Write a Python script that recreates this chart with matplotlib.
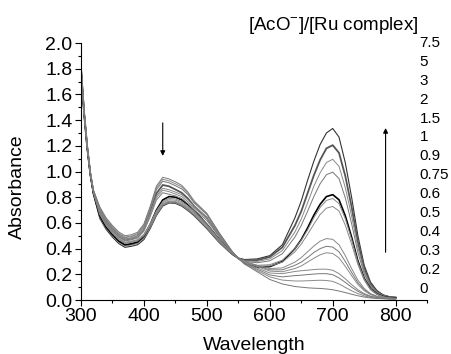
import matplotlib
matplotlib.use('Agg')
import matplotlib.pyplot as plt
from matplotlib.ticker import MultipleLocator, FixedLocator

plt.rcParams['font.family'] = ['Liberation Sans', 'DejaVu Sans']
plt.rcParams['mathtext.fontset'] = 'custom'
plt.rcParams['mathtext.rm'] = 'Liberation Sans'

wavelength = [300, 305, 310, 315, 320, 330, 340, 350, 360, 370, 380, 390, 400, 410, 420, 430, 440, 450, 460, 470, 480,
              500, 520, 540, 550, 560, 580, 600, 620, 640,
              650, 660, 670, 680, 690, 700, 710, 720, 730, 740, 750, 760, 770, 780, 790, 800]

ratio_labels = ['7.5', '5', '3', '2', '1.5', '1', '0.9', '0.75', '0.6', '0.5', '0.4', '0.3', '0.2', '0']

a_7_5 = [1.80, 1.45, 1.18, 0.97, 0.82, 0.635, 0.55, 0.49, 0.44, 0.41, 0.418, 0.43, 0.47, 0.555, 0.658, 0.731, 0.755, 0.752, 0.731, 0.696, 0.655,
         0.555, 0.445, 0.355, 0.325, 0.315, 0.32, 0.345, 0.43, 0.64,
         0.77, 0.93, 1.08, 1.21, 1.30, 1.335, 1.268, 1.068, 0.80, 0.50, 0.27, 0.14, 0.075, 0.04, 0.025, 0.02]
a_5 = [1.81, 1.46, 1.19, 0.98, 0.835, 0.695, 0.61, 0.55, 0.50, 0.47, 0.478, 0.495, 0.55, 0.68, 0.83, 0.895, 0.885, 0.86, 0.835, 0.79, 0.73,
       0.64, 0.50, 0.37, 0.325, 0.31, 0.31, 0.335, 0.41, 0.58,
       0.69, 0.83, 0.97, 1.09, 1.18, 1.205, 1.145, 0.965, 0.725, 0.45, 0.245, 0.125, 0.068, 0.037, 0.024, 0.02]
a_3 = [1.80, 1.45, 1.18, 0.97, 0.825, 0.645, 0.56, 0.50, 0.45, 0.42, 0.428, 0.44, 0.48, 0.563, 0.665, 0.736, 0.76, 0.757, 0.736, 0.702, 0.66,
       0.56, 0.45, 0.357, 0.325, 0.305, 0.30, 0.32, 0.385, 0.53,
       0.63, 0.755, 0.885, 0.99, 1.07, 1.095, 1.04, 0.875, 0.655, 0.41, 0.225, 0.115, 0.062, 0.034, 0.022, 0.018]
a_2 = [1.80, 1.455, 1.185, 0.975, 0.828, 0.65, 0.565, 0.505, 0.455, 0.425, 0.433, 0.445, 0.486, 0.568, 0.67, 0.741, 0.765, 0.762, 0.741, 0.707, 0.665,
       0.565, 0.455, 0.36, 0.325, 0.30, 0.29, 0.305, 0.36, 0.49,
       0.58, 0.69, 0.805, 0.905, 0.975, 0.995, 0.945, 0.795, 0.595, 0.37, 0.205, 0.105, 0.057, 0.031, 0.02, 0.017]
a_1_5 = [1.81, 1.46, 1.19, 0.98, 0.83, 0.655, 0.57, 0.51, 0.46, 0.43, 0.438, 0.452, 0.497, 0.588, 0.70, 0.779, 0.805, 0.80, 0.78, 0.742, 0.695,
         0.59, 0.47, 0.365, 0.325, 0.29, 0.255, 0.26, 0.30, 0.40,
         0.47, 0.56, 0.66, 0.745, 0.805, 0.82, 0.78, 0.655, 0.49, 0.305, 0.17, 0.088, 0.048, 0.027, 0.018, 0.015]
a_1 = [1.81, 1.46, 1.19, 0.98, 0.835, 0.665, 0.58, 0.52, 0.47, 0.44, 0.448, 0.46, 0.50, 0.579, 0.678, 0.747, 0.77, 0.767, 0.747, 0.714, 0.675,
       0.575, 0.46, 0.362, 0.325, 0.295, 0.27, 0.275, 0.31, 0.40,
       0.465, 0.545, 0.64, 0.72, 0.775, 0.79, 0.75, 0.632, 0.473, 0.295, 0.165, 0.085, 0.047, 0.026, 0.017, 0.014]
a_0_9 = [1.81, 1.46, 1.19, 0.98, 0.837, 0.67, 0.585, 0.525, 0.475, 0.445, 0.453, 0.465, 0.505, 0.586, 0.686, 0.757, 0.78, 0.777, 0.757, 0.723, 0.683,
         0.583, 0.465, 0.363, 0.325, 0.29, 0.265, 0.265, 0.295, 0.375,
         0.435, 0.51, 0.59, 0.665, 0.715, 0.728, 0.693, 0.582, 0.435, 0.275, 0.155, 0.08, 0.044, 0.025, 0.016, 0.013]
a_0_75 = [1.815, 1.465, 1.195, 0.985, 0.84, 0.675, 0.59, 0.53, 0.48, 0.45, 0.458, 0.47, 0.51, 0.593, 0.695, 0.766, 0.79, 0.787, 0.766, 0.732, 0.69,
          0.59, 0.47, 0.365, 0.325, 0.30, 0.27, 0.245, 0.25, 0.295,
          0.33, 0.375, 0.42, 0.458, 0.478, 0.472, 0.43, 0.345, 0.245, 0.155, 0.09, 0.05, 0.03, 0.018, 0.013, 0.011]
a_0_6 = [1.815, 1.465, 1.195, 0.985, 0.84, 0.685, 0.60, 0.54, 0.49, 0.46, 0.468, 0.483, 0.535, 0.648, 0.779, 0.835, 0.823, 0.81, 0.79, 0.75, 0.70,
         0.62, 0.49, 0.37, 0.325, 0.30, 0.265, 0.235, 0.235, 0.27,
         0.295, 0.33, 0.37, 0.40, 0.418, 0.412, 0.375, 0.30, 0.215, 0.135, 0.08, 0.046, 0.027, 0.017, 0.012, 0.01]
a_0_5 = [1.815, 1.465, 1.195, 0.985, 0.845, 0.695, 0.61, 0.55, 0.50, 0.47, 0.478, 0.493, 0.547, 0.663, 0.797, 0.855, 0.843, 0.825, 0.805, 0.765, 0.715,
         0.635, 0.50, 0.373, 0.325, 0.30, 0.26, 0.225, 0.22, 0.245,
         0.265, 0.295, 0.325, 0.352, 0.368, 0.362, 0.328, 0.262, 0.19, 0.12, 0.073, 0.042, 0.025, 0.016, 0.012, 0.01]
a_0_4 = [1.82, 1.47, 1.20, 0.99, 0.845, 0.70, 0.615, 0.555, 0.505, 0.475, 0.483, 0.499, 0.554, 0.673, 0.811, 0.87, 0.858, 0.84, 0.82, 0.78, 0.73,
         0.645, 0.505, 0.375, 0.325, 0.29, 0.25, 0.21, 0.205, 0.222,
         0.228, 0.232, 0.237, 0.24, 0.24, 0.232, 0.205, 0.165, 0.12, 0.08, 0.05, 0.03, 0.02, 0.013, 0.01, 0.01]
a_0_3 = [1.82, 1.47, 1.20, 0.99, 0.85, 0.71, 0.625, 0.565, 0.515, 0.485, 0.493, 0.511, 0.573, 0.705, 0.859, 0.925, 0.912, 0.89, 0.865, 0.82, 0.755,
         0.665, 0.515, 0.378, 0.325, 0.285, 0.24, 0.195, 0.18, 0.19,
         0.193, 0.198, 0.202, 0.205, 0.205, 0.197, 0.172, 0.137, 0.10, 0.068, 0.043, 0.027, 0.018, 0.012, 0.01, 0.009]
a_0_2 = [1.82, 1.47, 1.20, 0.99, 0.85, 0.715, 0.63, 0.57, 0.52, 0.49, 0.498, 0.517, 0.58, 0.715, 0.873, 0.94, 0.927, 0.905, 0.88, 0.83, 0.762,
         0.67, 0.518, 0.379, 0.325, 0.28, 0.23, 0.18, 0.155, 0.148,
         0.148, 0.15, 0.152, 0.154, 0.152, 0.145, 0.125, 0.098, 0.072, 0.05, 0.032, 0.021, 0.015, 0.011, 0.009, 0.008]
a_0 = [1.82, 1.47, 1.20, 0.99, 0.855, 0.725, 0.64, 0.58, 0.53, 0.50, 0.508, 0.527, 0.591, 0.728, 0.887, 0.955, 0.942, 0.92, 0.893, 0.84, 0.77,
       0.675, 0.52, 0.38, 0.325, 0.28, 0.22, 0.16, 0.125, 0.105,
       0.10, 0.095, 0.092, 0.09, 0.086, 0.08, 0.07, 0.058, 0.045, 0.033, 0.023, 0.016, 0.012, 0.01, 0.008, 0.008]

spectra = [a_7_5, a_5, a_3, a_2, a_1_5, a_1, a_0_9, a_0_75, a_0_6, a_0_5, a_0_4, a_0_3, a_0_2, a_0]
colors = ['#333333', '#555555', '#888888', '#777777', '#000000', '#888888', '#8a8a8a',
          '#888888', '#777777', '#8a8a8a', '#888888', '#777777', '#8a8a8a', '#777777']
widths = [0.8, 1.3, 0.7, 0.7, 1.2, 0.7, 0.7, 0.7, 0.7, 0.7, 0.7, 0.7, 0.7, 0.7]

fig = plt.figure(figsize=(4.52, 3.54), dpi=100)
ax = fig.add_axes([0.179, 0.1525, 0.766, 0.726])

for y, c, lw in zip(spectra, colors, widths):
    ax.plot(wavelength, y, color=c, lw=lw)

ax.set_xlim(300, 850)
ax.set_ylim(0, 2.0)
ax.xaxis.set_major_locator(FixedLocator([300, 400, 500, 600, 700, 800]))
ax.xaxis.set_minor_locator(MultipleLocator(50))
ax.yaxis.set_major_locator(MultipleLocator(0.2))
ax.yaxis.set_minor_locator(MultipleLocator(0.1))
ax.set_yticklabels([f'{v:.1f}' for v in ax.get_yticks()])
ax.tick_params(which='major', direction='out', length=4, width=0.8, labelsize=14, pad=2)
ax.tick_params(which='minor', direction='out', length=2.5, width=0.8)
for s in ['top', 'right']:
    ax.spines[s].set_visible(False)

ax.set_xlabel('Wavelength', fontsize=14)
ax.set_ylabel('Absorbance', fontsize=14)
ax.xaxis.set_label_coords(0.5, -0.144)
ax.yaxis.set_label_coords(-0.16, 0.44)

# arrows showing the direction of change
ax.annotate('', xy=(430, 1.10), xytext=(430, 1.40),
            arrowprops=dict(arrowstyle='-|>', color='black', lw=0.8, mutation_scale=7))
ax.annotate('', xy=(784, 1.36), xytext=(784, 0.35),
            arrowprops=dict(arrowstyle='-|>', color='black', lw=0.8, mutation_scale=7))

fig.text(0.738, 0.929, r'[AcO$^{-}$]/[Ru complex]', ha='center', va='center', fontsize=13.5)
for i, lab in enumerate(ratio_labels):
    ax.text(0.978, 1.0 - i * 0.0735, lab, transform=ax.transAxes,
            ha='left', va='center', fontsize=11, clip_on=False)

fig.savefig('out.png', dpi=100)
